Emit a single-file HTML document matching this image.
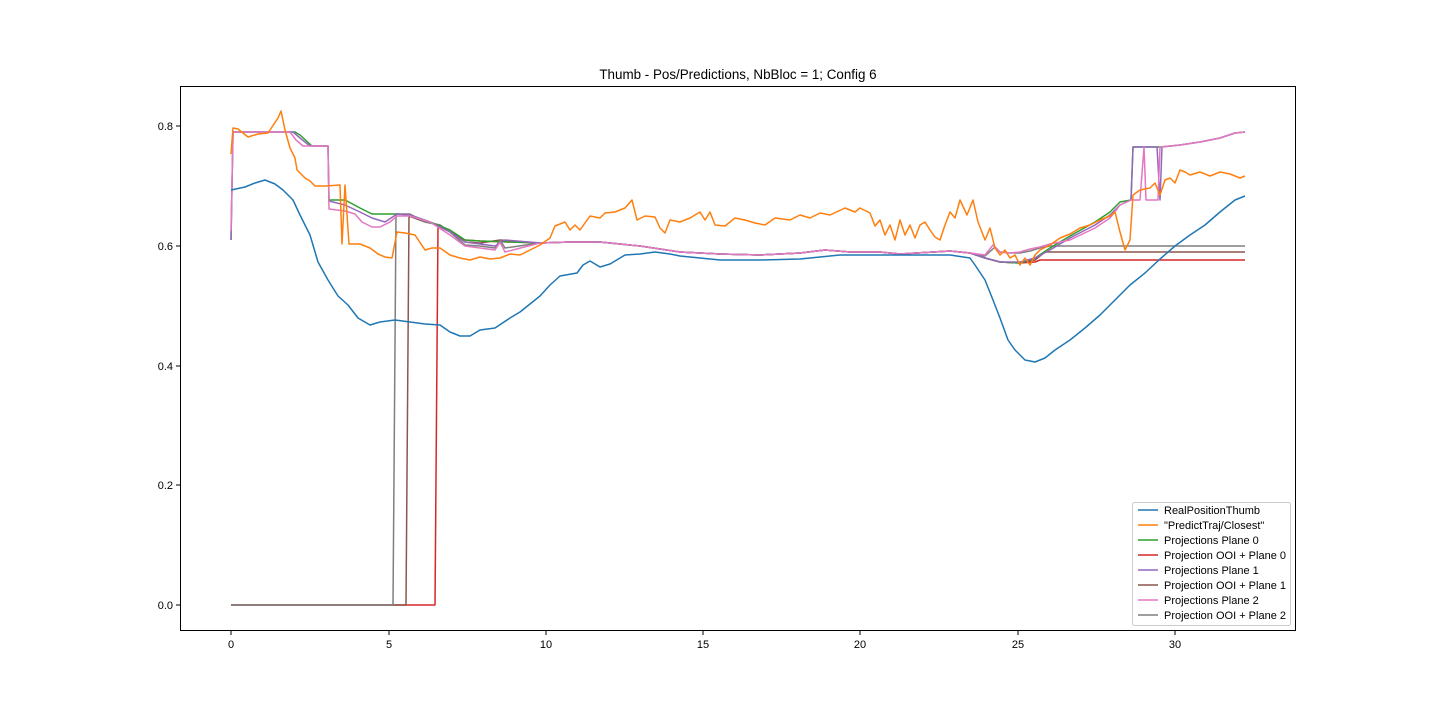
<!DOCTYPE html>
<html><head><style>body{margin:0;background:#fff}svg{display:block}text{font-family:"Liberation Sans",sans-serif;font-size:11px;fill:#000}</style></head><body>
<svg width="1440" height="720" viewBox="0 0 1440 720" xmlns="http://www.w3.org/2000/svg">
<text x="738" y="79" text-anchor="middle" style="font-size:13.4px">Thumb - Pos/Predictions, NbBloc = 1; Config 6</text>
<g fill="none" stroke-width="1.5" stroke-linejoin="round">
<polyline stroke="#d62728" points="231,605 435,605 438,226 450,232 465,240 480,241 540,243 570,242 600,242 640,246 680,252 720,254 760,255 800,253 825,250 850,252 880,252 900,254 950,251 970,253 985,258 1000,262 1020,263 1035,262 1040,260 1245,260"/>
<polyline stroke="#8c564b" points="231,605 406,605 409,216 425,222 440,225 450,232 465,242 480,243 500,240 540,243 570,242 600,242 640,246 680,252 720,254 760,255 800,253 825,250 850,252 880,252 900,254 950,251 970,253 985,258 1000,262 1020,263 1035,260 1045,252 1245,252"/>
<polyline stroke="#7f7f7f" points="231,605 393,605 396,214 410,214 425,222 440,225 450,232 465,245 480,246 495,248 500,240 505,248 540,243 570,242 600,242 640,246 680,252 720,254 760,255 800,253 825,250 850,252 880,252 900,254 950,251 970,253 985,256 995,247 1000,252 1010,253 1020,253 1030,251 1040,248 1050,246 1245,246"/>
<polyline stroke="#2ca02c" points="231,240 233,132 295,132 300,135 312,146 328,146 329,200 345,200 360,208 372,214 397,214 410,215 430,222 450,230 465,240 480,241 540,243 570,242 600,242 640,246 680,252 720,254 760,255 800,253 825,250 850,252 880,252 900,254 950,251 970,253 985,258 1000,262 1020,263 1035,258 1050,248 1070,236 1095,222 1110,212 1120,202 1131,200 1133,147 1160,147 1180,145 1200,142 1220,138 1235,133 1245,132"/>
<polyline stroke="#9467bd" points="231,240 233,132 293,132 300,138 310,146 328,146 329,201 345,205 360,212 372,218 385,222 397,214 410,215 430,222 450,232 465,242 480,244 495,246 505,240 540,243 570,242 600,242 640,246 680,252 720,254 760,255 800,253 825,250 850,252 880,252 900,254 950,251 970,253 985,258 1000,262 1020,262 1035,258 1050,250 1070,238 1095,225 1110,215 1120,205 1131,200 1133,147 1157,147 1160,200 1162,147 1180,145 1200,142 1220,138 1235,133 1245,132"/>
<polyline stroke="#e377c2" points="231,231 233,132 290,132 296,140 303,146 328,146 329,209 345,211 355,214 362,222 372,227 380,227 390,222 397,216 410,216 430,222 450,235 465,246 480,248 495,250 500,242 505,252 540,243 570,242 600,242 640,246 680,252 720,254 760,255 800,253 825,250 850,252 880,252 900,254 950,251 970,253 985,255 993,245 1000,252 1010,253 1020,252 1030,249 1040,247 1050,244 1070,240 1095,228 1110,218 1120,205 1131,200 1140,200 1144,147 1146,200 1158,200 1160,147 1180,145 1200,142 1220,138 1235,133 1245,132"/>
<polyline stroke="#ff7f0e" points="231,154 233,128 238,129 248,137 258,134 268,133 278,118 281,111 285,130 290,148 295,158 297,170 305,178 310,181 315,186 325,186 340,185 342,244 345,185 349,244 360,244 370,248 378,254 385,257 392,258 397,232 405,233 415,235 425,250 432,248 440,248 450,255 460,258 470,260 480,257 490,259 500,258 510,254 520,255 530,250 540,245 550,238 555,226 565,222 570,230 575,225 580,230 590,216 600,218 605,213 615,212 625,208 632,200 637,220 645,216 655,217 660,228 665,233 670,220 680,222 690,218 700,212 705,220 710,212 715,225 725,226 735,218 745,220 755,223 765,225 775,218 790,220 800,215 810,218 820,213 830,215 845,208 850,210 855,212 860,208 870,213 875,226 880,220 885,235 890,225 895,240 900,220 905,235 910,225 915,238 920,225 925,222 930,230 935,237 940,240 945,225 950,212 955,218 960,200 967,215 973,200 978,222 985,240 990,228 995,248 1000,255 1005,250 1010,258 1015,255 1020,265 1025,258 1030,265 1035,255 1040,250 1050,245 1060,238 1070,234 1080,228 1090,225 1100,220 1110,216 1115,212 1120,232 1125,250 1130,240 1133,195 1140,190 1150,188 1155,183 1160,195 1165,180 1170,178 1175,183 1180,170 1185,172 1190,175 1200,172 1210,176 1220,172 1230,174 1240,178 1245,176"/>
<polyline stroke="#1f77b4" points="231,190 245,187 255,183 265,180 275,184 283,190 293,200 300,215 310,235 318,262 328,280 338,296 348,305 358,318 370,325 380,322 395,320 410,322 425,324 440,325 450,332 460,336 470,336 480,330 495,328 510,318 520,312 530,304 540,296 550,285 560,276 577,273 583,265 590,261 600,267 610,264 625,255 640,254 655,252 670,254 680,256 700,258 720,260 760,260 800,259 840,255 880,255 920,255 950,255 970,258 975,265 985,280 993,300 1000,318 1008,340 1015,350 1025,360 1035,362 1045,358 1055,350 1070,340 1085,328 1100,315 1115,300 1130,285 1145,273 1160,259 1175,246 1190,235 1205,225 1220,212 1235,200 1245,196"/>
</g>
<rect x="180.5" y="86.5" width="1115" height="544" fill="none" stroke="#000" stroke-width="1"/>
<g stroke="#000">
<line x1="231" y1="631" x2="231" y2="635"/><line x1="389" y1="631" x2="389" y2="635"/><line x1="546" y1="631" x2="546" y2="635"/><line x1="703" y1="631" x2="703" y2="635"/><line x1="860" y1="631" x2="860" y2="635"/><line x1="1018" y1="631" x2="1018" y2="635"/><line x1="1175" y1="631" x2="1175" y2="635"/>
<line x1="176" y1="605" x2="180" y2="605"/><line x1="176" y1="485" x2="180" y2="485"/><line x1="176" y1="366" x2="180" y2="366"/><line x1="176" y1="246" x2="180" y2="246"/><line x1="176" y1="126" x2="180" y2="126"/>
</g>
<g text-anchor="middle"><text x="231" y="648">0</text><text x="389" y="648">5</text><text x="546" y="648">10</text><text x="703" y="648">15</text><text x="860" y="648">20</text><text x="1018" y="648">25</text><text x="1175" y="648">30</text></g>
<g text-anchor="end"><text x="173" y="609">0.0</text><text x="173" y="489">0.2</text><text x="173" y="370">0.4</text><text x="173" y="250">0.6</text><text x="173" y="130">0.8</text></g>
<rect x="1132.5" y="502.5" width="158" height="123" rx="2" fill="#fff" stroke="#ccc"/>
<g stroke-width="1.5">
<line x1="1138" y1="510" x2="1158" y2="510" stroke="#1f77b4"/>
<line x1="1138" y1="525" x2="1158" y2="525" stroke="#ff7f0e"/>
<line x1="1138" y1="540" x2="1158" y2="540" stroke="#2ca02c"/>
<line x1="1138" y1="555" x2="1158" y2="555" stroke="#d62728"/>
<line x1="1138" y1="570" x2="1158" y2="570" stroke="#9467bd"/>
<line x1="1138" y1="585" x2="1158" y2="585" stroke="#8c564b"/>
<line x1="1138" y1="600" x2="1158" y2="600" stroke="#e377c2"/>
<line x1="1138" y1="615" x2="1158" y2="615" stroke="#7f7f7f"/>
</g>
<g style="font-size:10px"><text x="1164" y="514">RealPositionThumb</text><text x="1164" y="529">"PredictTraj/Closest"</text><text x="1164" y="544">Projections Plane 0</text><text x="1164" y="559">Projection OOI + Plane 0</text><text x="1164" y="574">Projections Plane 1</text><text x="1164" y="589">Projection OOI + Plane 1</text><text x="1164" y="604">Projections Plane 2</text><text x="1164" y="619">Projection OOI + Plane 2</text></g>
</svg>
</body></html>
